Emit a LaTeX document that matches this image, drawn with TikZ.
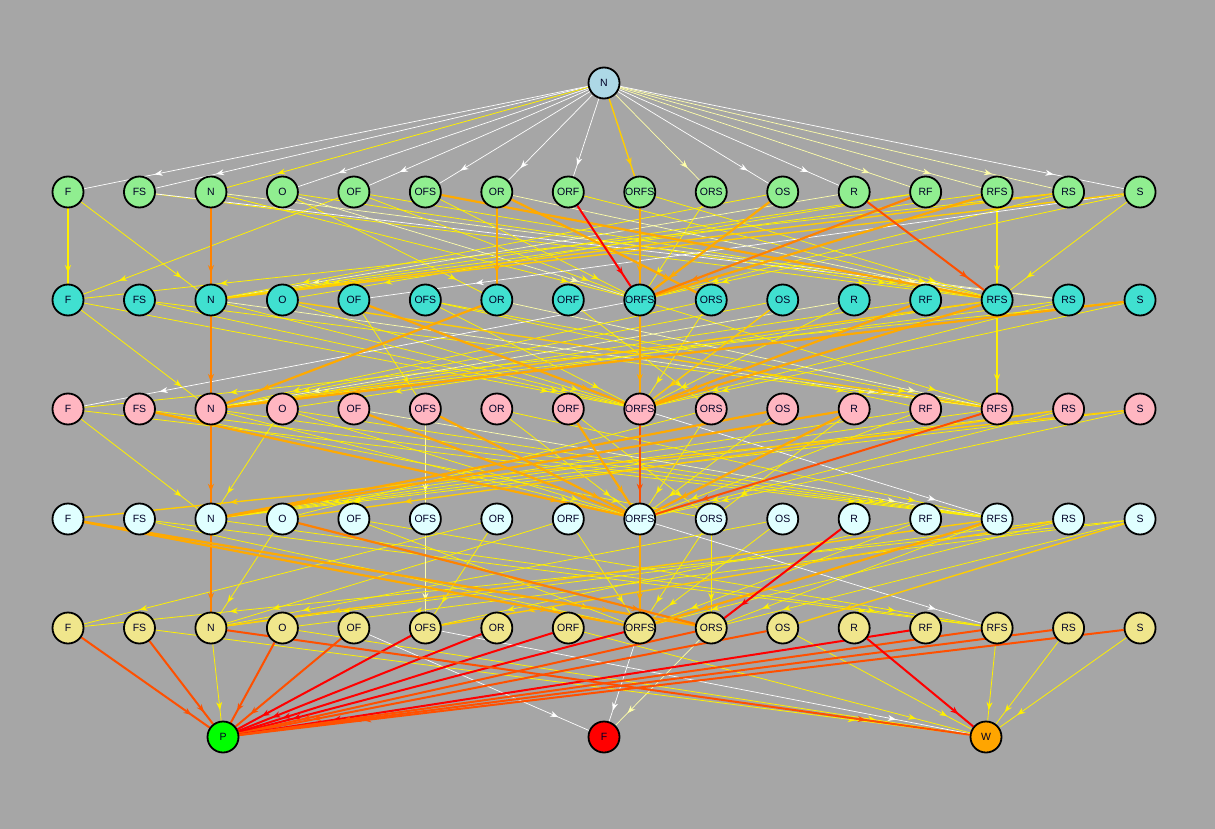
\documentclass[tikz,border=0pt]{standalone}
\usepackage{fontspec}
\setmainfont{Liberation Sans}
\usetikzlibrary{arrows.meta,decorations.markings}
\definecolor{bgc}{RGB}{166,166,166}
\definecolor{ctop}{RGB}{173,216,230}
\definecolor{cone}{RGB}{144,238,144}
\definecolor{ctwo}{RGB}{64,224,208}
\definecolor{cthree}{RGB}{255,182,193}
\definecolor{cfour}{RGB}{224,255,255}
\definecolor{cfive}{RGB}{240,230,140}
\definecolor{cP}{RGB}{0,255,0}
\definecolor{cX}{RGB}{255,0,0}
\definecolor{cW}{RGB}{255,165,0}
\definecolor{lw}{RGB}{255,255,255}
\definecolor{lp}{RGB}{255,255,170}
\definecolor{ly}{RGB}{255,240,0}
\definecolor{lg}{RGB}{255,205,0}
\definecolor{lo}{RGB}{255,170,0}
\definecolor{ld}{RGB}{255,130,0}
\definecolor{lq}{RGB}{255,80,0}
\definecolor{lr}{RGB}{255,0,0}
\pgfdeclarelayer{bgl}
\pgfdeclarelayer{edgel}
\pgfsetlayers{bgl,edgel,main}
\begin{document}
\begin{tikzpicture}[x=1pt,y=-1pt,
 st/.style={circle,draw=black,line width=1.8pt,minimum size=31pt,inner sep=0pt,text=black!85!blue,font=\fontsize{10.5}{12}\selectfont},
 arr/.style={postaction={decorate},decoration={markings,mark=at position 0.86 with {\arrow{Stealth[length=8pt,width=6pt]}}}},
 ew/.style={arr,draw=lw,line width=0.7pt},
 ep/.style={arr,draw=lp,line width=0.7pt},
 ey/.style={arr,draw=ly,line width=0.8pt},
 em/.style={arr,draw=ly,line width=1.3pt},
 eg/.style={arr,draw=lg,line width=1.4pt},
 eo/.style={arr,draw=lo,line width=2.2pt},
 ed/.style={arr,draw=ld,line width=2.2pt},
 eq/.style={arr,draw=lq,line width=2pt},
 er/.style={arr,draw=lr,line width=2pt}
]
\begin{pgfonlayer}{bgl}
\fill[bgc] (0,0) rectangle (1215,829);
\end{pgfonlayer}
\useasboundingbox (0,0) rectangle (1215,829);

\node[st,fill=ctop] (top) at (604,83) {N};
\foreach \r/\y/\c in {A/192/cone,B/300/ctwo,C/409/cthree,D/519/cfour,E/628/cfive}{
  \foreach \n [count=\i from 0] in {F,FS,N,O,OF,OFS,OR,ORF,ORFS,ORS,OS,R,RF,RFS,RS,S}{
    \node[st,fill=\c] (\r\n) at ({68+71.47*\i},\y) {\n};
  }
}
\node[st,fill=cP] (P) at (223,737) {P};
\node[st,fill=cX] (X) at (604,737) {F};
\node[st,fill=cW] (W) at (986,737) {W};

\begin{pgfonlayer}{edgel}
% top -> row A
\foreach \a/\b/\s in {top/AF/ew,top/AFS/ew,top/AN/ey,top/AO/ew,top/AOF/ew,top/AOFS/ew,top/AOR/ew,top/AORF/ew,
  top/AORFS/eg,top/AORS/ep,top/AOS/ew,top/AR/ew,top/ARF/ep,top/ARFS/ep,top/ARS/ep,top/AS/ew}
  \draw[style=\s] (\a) -- (\b);
% row A -> row B
\foreach \a/\b/\s in {AF/BN/ey,AOF/BF/ey,AO/BOR/ey,AFS/BRFS/ey,AFS/BRS/ew,AN/BORFS/ey,AN/BRS/ep,AO/BRFS/ey,
  AO/BORFS/ep,AOF/BRFS/ey,AOF/BORFS/ey,AOFS/BORFS/ey,AORS/BORFS/ey,ARS/BORFS/ey,ARS/BF/ey,AR/BN/ep,
  ARFS/BN/ey,AOS/BN/ey,ARF/BO/ey,AS/BORFS/ey,AORF/BRFS/ey,AORFS/BRFS/ey,AS/BRFS/ey,
  ARFS/BRFS/em,AOR/BRFS/ep,ARF/BN/ey,AS/BOF/ew,AF/BF/em,AS/BN/eg,ARS/BN/eg,
  AN/BN/ed,AOR/BOR/eo,AORFS/BORFS/eo,AOS/BORFS/eo,ARFS/BORFS/eo,AOR/BORS/eo,AOFS/BRFS/eo,ARF/BORFS/ed,
  AR/BRFS/eq,AORF/BORFS/er}
  \draw[style=\s] (\a) -- (\b);
% row B -> row C
\foreach \a/\b/\s in {BF/CN/ey,BOF/COFS/ey,BRFS/CRFS/em,BF/CORFS/ey,BFS/CRFS/ey,BFS/CORFS/ey,BN/CRFS/ep,
  BO/CORFS/ey,BOFS/CORFS/ey,BOFS/CRFS/ey,BORF/CORS/ey,BORS/CORFS/ey,BOS/CN/ey,BR/CORFS/ey,BRS/CN/ey,
  BRS/CORFS/ey,BRF/CN/ey,BORFS/CRFS/ey,BORFS/CF/ew,BRFS/CO/ey,BS/CORFS/ey,BOR/CRFS/ep,
  BN/CORFS/ey,BORS/CN/ey,BS/CF/ey,BR/CN/ep,BOFS/CRF/ey,BOS/CORFS/eg,BRFS/CN/eg,BO/CRFS/eg,
  BN/CN/ed,BORFS/CORFS/eo,BOR/CN/eo,BOF/CORFS/eo,BS/CN/eo,BRF/CORFS/eo,BRFS/CORFS/eo}
  \draw[style=\s] (\a) -- (\b);
% row C -> row D
\foreach \a/\b/\s in {CF/DN/ey,CO/DN/ey,COFS/DOFS/ep,CFS/DRFS/ey,CF/DRFS/ey,CN/DRFS/ey,CN/DORFS/ey,
  CO/DORFS/ey,COR/DORFS/ey,COR/DRFS/ey,CORF/DORS/ey,CORFS/DRFS/ew,CORS/DORFS/ey,COS/DORFS/ey,CRF/DORFS/ey,
  CRF/DN/ey,CRS/DORFS/ey,CRS/DN/ey,CS/DORFS/ey,CS/DN/ey,CRFS/DN/ey,COF/DRFS/ep,CFS/DORS/ey,
  CO/DRFS/ey,CORS/DO/ey,CR/DORS/ey,CS/DF/eg,CRS/DO/eg,
  CN/DN/ed,CORFS/DORFS/eq,CFS/DORFS/eo,COF/DORFS/eo,COFS/DORFS/eo,CORF/DORFS/eo,CR/DN/eo,COS/DN/eo,
  CR/DORFS/eo,CRFS/DORFS/eq}
  \draw[style=\s] (\a) -- (\b);
% row D -> row E
\foreach \a/\b/\s in {DO/EN/ey,DORF/EN/ey,DOR/EOFS/ey,DOFS/EOFS/ep,DORS/EORS/ey,DOS/EORFS/ey,DORS/EORFS/ey,
  DFS/ERFS/ey,DFS/EORFS/ey,DN/ERFS/ey,DOF/EORFS/ey,DOF/ERFS/ey,DORF/EORFS/ey,DRF/EORFS/ey,
  DRFS/EORS/ey,DRS/EORFS/ey,DRS/EN/ey,DS/EORS/ey,DS/EF/ey,DORFS/ERFS/ew,DOS/EN/ey,DRF/EOFS/ey,
  DOR/EF/ey,DS/EO/ey,DS/EOS/eg,DRS/EOFS/eg,DRFS/EN/eg,
  DN/EN/ed,DORFS/EORFS/eo,DF/EORS/eo,DF/EORFS/eo,DO/EORS/ed,DRFS/EORFS/eo,DR/EORS/er}
  \draw[style=\s] (\a) -- (\b);
% row E -> outcomes
\foreach \a/\b/\s in {EN/P/ey,EOF/X/ew,EORFS/X/ew,EORS/X/ep,ERFS/W/ey,ERS/W/ey,ES/W/ey,EOS/W/ey,EFS/W/ey,
  EO/W/ey,EOFS/W/ew,EORF/W/ey,
  EF/P/eq,EFS/P/eq,EO/P/eq,EOF/P/eq,EOFS/P/er,EOR/P/er,EORF/P/er,EORFS/P/er,EORS/P/eq,EOS/P/eq,
  ERF/P/er,ERFS/P/eq,ERS/P/eq,ES/P/eq,EN/W/eq,ER/W/er}
  \draw[style=\s] (\a) -- (\b);
\end{pgfonlayer}
\end{tikzpicture}
\end{document}
